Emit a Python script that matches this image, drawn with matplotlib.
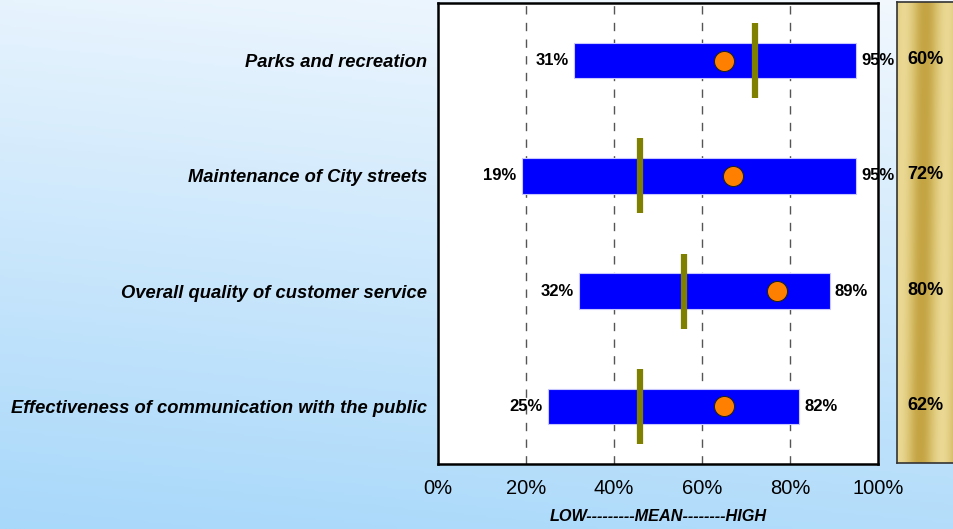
import numpy as np
import matplotlib
matplotlib.use("Agg")
import matplotlib.pyplot as plt
from matplotlib.colors import LinearSegmentedColormap

plt.rcParams['font.family'] = ['Liberation Sans', 'DejaVu Sans']

categories = ["Parks and recreation",
              "Maintenance of City streets",
              "Overall quality of customer service",
              "Effectiveness of communication with the public"]
low = [31, 19, 32, 25]
high = [95, 95, 89, 82]
mean_line = [72, 46, 56, 46]
city_score = [65, 67, 77, 65]
panel_values = [60, 72, 80, 62]
xticks = [0, 20, 40, 60, 80, 100]
xtick_labels = ["0%", "20%", "40%", "60%", "80%", "100%"]

W, H = 954, 529
fig = plt.figure(figsize=(W / 100, H / 100), dpi=100)

# soft sky gradient behind everything
bg = fig.add_axes([0, 0, 1, 1], zorder=-10)
yy, xx = np.mgrid[0:1:200j, 0:1:200j]
t = np.clip(yy * 0.85 + xx * 0.15, 0, 1)
bg_cmap = LinearSegmentedColormap.from_list("sky", ["#a8d8fa", "#f2f8fe"])
bg.imshow(t, cmap=bg_cmap, aspect="auto", extent=[0, 1, 0, 1], origin="lower",
          vmin=0, vmax=1)
bg.set_axis_off()

ax = fig.add_axes([438 / W, 1 - 464 / H, 440 / W, 461 / H])
ax.set_facecolor("white")
n = len(categories)
ypos = np.arange(n)[::-1]

for x in [20, 40, 60, 80]:
    ax.axvline(x, color="#555555", lw=1.0, ls=(0, (6, 6)), zorder=1)

ax.barh(ypos, np.array(high) - np.array(low), left=low, height=0.31,
        color="#0000ff", edgecolor="#c8c8ff", lw=0.8, zorder=2)
for y, m in zip(ypos, mean_line):
    ax.plot([m, m], [y - 0.325, y + 0.325], color="#808000", lw=4.5,
            solid_capstyle="butt", zorder=3)
ax.plot(city_score, ypos, "o", ms=14.5, mfc="#ff8000", mec="#222222",
        mew=0.8, zorder=4, ls="none")

for y, lo, hi in zip(ypos, low, high):
    ax.text(lo - 1.2, y, f"{lo}%", ha="right", va="center",
            fontsize=12, fontweight="bold", zorder=5)
    ax.text(hi + 1.2, y, f"{hi}%", ha="left", va="center",
            fontsize=12, fontweight="bold", zorder=5, clip_on=False)

ax.set_xlim(0, 100)
ax.set_ylim(-0.5, n - 0.5)
ax.set_xticks(xticks)
ax.set_xticklabels(xtick_labels, fontsize=14.5)
ax.tick_params(axis="x", length=0, pad=11)
ax.set_yticks(ypos)
ax.set_yticklabels(categories, fontsize=13.2, fontweight="bold",
                   fontstyle="italic")
ax.tick_params(axis="y", length=0, pad=8)
for s in ax.spines.values():
    s.set_linewidth(1.8)
    s.set_color("black")
ax.set_xlabel("LOW---------MEAN--------HIGH", fontsize=11.7,
              fontweight="bold", fontstyle="italic", labelpad=8)

# golden side panel
gp = fig.add_axes([897 / W, 1 - 463 / H, 70 / W, 461 / H])
gy, gx = np.mgrid[0:1:300j, 0:1:140j]
phase = 1.6 * (gx - 0.33 - 0.08 * gy)
g = 0.5 - 0.5 * np.cos(2 * np.pi * phase)
gold_cmap = LinearSegmentedColormap.from_list(
    "gold", ["#c4a443", "#d8c06c", "#ead893"])
gp.imshow(g, cmap=gold_cmap, aspect="auto", extent=[0, 1, -0.5, n - 0.5],
          origin="lower")
gp.set_xlim(0, 1)
gp.set_ylim(-0.5, n - 0.5)
gp.set_xticks([])
gp.set_yticks([])
for s in gp.spines.values():
    s.set_linewidth(1.2)
    s.set_color("#333333")
for y, v in zip(ypos, panel_values):
    gp.text(0.41, y, f"{v}%", ha="center", va="center", fontsize=13,
            fontweight="bold")

fig.savefig("out.png", dpi=100)
